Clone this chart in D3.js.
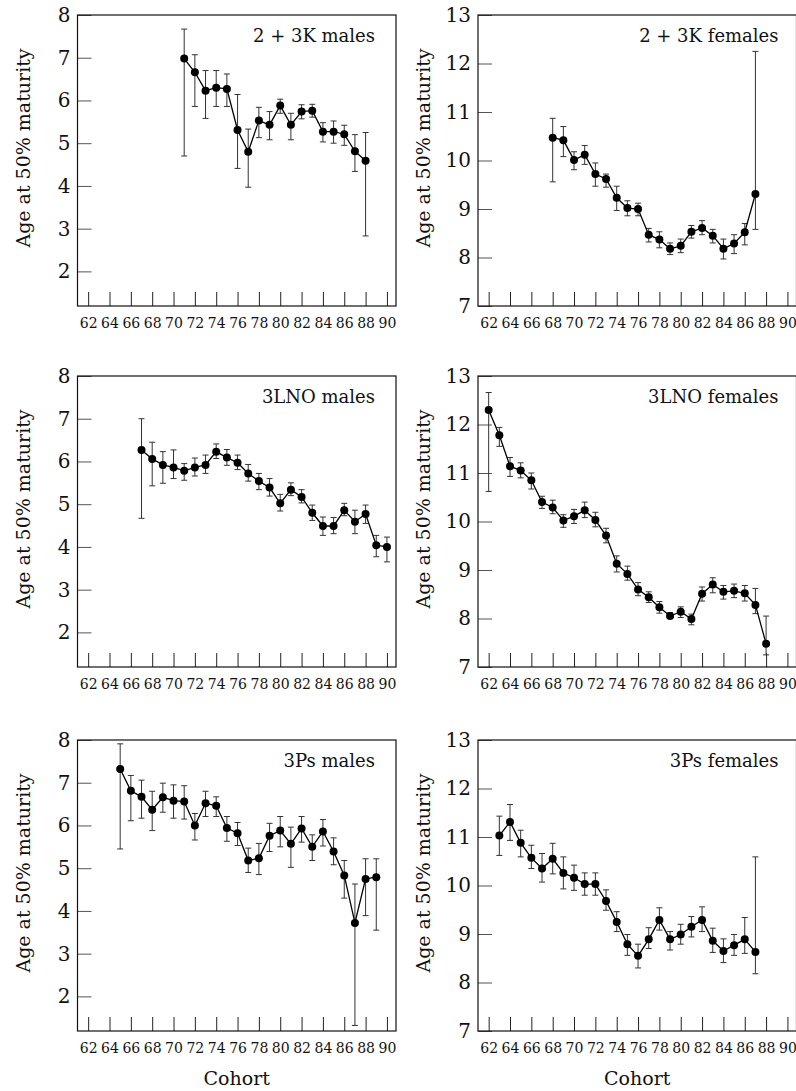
<!DOCTYPE html>
<html>
<head>
<meta charset="utf-8">
<script src="https://cdn.jsdelivr.net/npm/d3@7"></script>
<style>
  body { margin: 0; background: #fff; }
  svg { display: block; font-family: 'DejaVu Serif', serif; }
</style>
</head>
<body>
<script>
// cohort tick labels
const xTicks = [62, 64, 66, 68, 70, 72, 74, 76, 78, 80, 82, 84, 86, 88, 90]
const maleTicks = [2, 3, 4, 5, 6, 7, 8]
const femaleTicks = [7, 8, 9, 10, 11, 12, 13]

// 2 + 3K males
const k23mYears = [71, 72, 73, 74, 75, 76, 77, 78, 79, 80, 81, 82, 83, 84, 85, 86, 87, 88]
const k23mAge = [6.98, 6.66, 6.23, 6.30, 6.27, 5.31, 4.80, 5.53, 5.43, 5.88, 5.43, 5.74, 5.76, 5.27, 5.27, 5.21, 4.81, 4.59]
const k23mHi = [7.67, 7.07, 6.70, 6.70, 6.62, 6.14, 5.33, 5.84, 5.74, 6.03, 5.70, 5.90, 5.91, 5.48, 5.52, 5.42, 5.20, 5.25]
const k23mLo = [4.70, 5.86, 5.58, 5.86, 5.86, 4.41, 3.97, 5.13, 5.08, 5.70, 5.08, 5.57, 5.61, 5.03, 5.00, 4.95, 4.34, 2.83]

// 2 + 3K females
const k23fYears = [68, 69, 70, 71, 72, 73, 74, 75, 76, 77, 78, 79, 80, 81, 82, 83, 84, 85, 86, 87]
const k23fAge = [10.47, 10.42, 10.01, 10.12, 9.72, 9.62, 9.23, 9.02, 9.00, 8.47, 8.37, 8.18, 8.24, 8.53, 8.61, 8.45, 8.18, 8.29, 8.52, 9.31]
const k23fHi = [10.87, 10.70, 10.18, 10.31, 9.95, 9.72, 9.47, 9.17, 9.12, 8.60, 8.53, 8.30, 8.38, 8.66, 8.76, 8.58, 8.38, 8.47, 8.70, 12.25]
const k23fLo = [9.56, 10.08, 9.81, 9.92, 9.47, 9.45, 8.97, 8.86, 8.86, 8.32, 8.20, 8.06, 8.10, 8.40, 8.47, 8.30, 7.97, 8.08, 8.26, 8.58]

// 3LNO males
const lnomYears = [67, 68, 69, 70, 71, 72, 73, 74, 75, 76, 77, 78, 79, 80, 81, 82, 83, 84, 85, 86, 87, 88, 89, 90]
const lnomAge = [6.27, 6.06, 5.92, 5.86, 5.78, 5.86, 5.92, 6.23, 6.09, 5.97, 5.72, 5.54, 5.39, 5.02, 5.34, 5.17, 4.80, 4.49, 4.49, 4.86, 4.59, 4.77, 4.04, 4.00]
const lnomHi = [7.00, 6.45, 6.23, 6.27, 5.95, 6.08, 6.15, 6.41, 6.28, 6.15, 5.93, 5.72, 5.60, 5.23, 5.50, 5.34, 4.98, 4.70, 4.69, 5.02, 4.86, 4.98, 4.27, 4.23]
const lnomLo = [4.67, 5.43, 5.49, 5.60, 5.56, 5.66, 5.72, 6.07, 5.91, 5.81, 5.54, 5.34, 5.19, 4.84, 5.20, 5.03, 4.62, 4.27, 4.31, 4.73, 4.31, 4.55, 3.77, 3.65]

// 3LNO females
const lnofYears = [62, 63, 64, 65, 66, 67, 68, 69, 70, 71, 72, 73, 74, 75, 76, 77, 78, 79, 80, 81, 82, 83, 84, 85, 86, 87, 88]
const lnofAge = [12.30, 11.78, 11.14, 11.05, 10.85, 10.40, 10.29, 10.02, 10.11, 10.23, 10.03, 9.71, 9.13, 8.92, 8.60, 8.44, 8.23, 8.05, 8.14, 7.99, 8.51, 8.70, 8.55, 8.57, 8.52, 8.28, 7.48]
const lnofHi = [12.66, 11.94, 11.32, 11.21, 11.00, 10.52, 10.44, 10.14, 10.25, 10.40, 10.19, 9.86, 9.29, 9.08, 8.74, 8.55, 8.35, 8.12, 8.24, 8.09, 8.65, 8.84, 8.68, 8.71, 8.68, 8.62, 8.05]
const lnofLo = [10.62, 11.55, 10.93, 10.90, 10.67, 10.27, 10.16, 9.88, 9.96, 10.08, 9.89, 9.56, 8.96, 8.79, 8.47, 8.33, 8.11, 8.00, 8.02, 7.87, 8.36, 8.53, 8.40, 8.43, 8.36, 8.10, 7.25]

// 3Ps males
const psmYears = [65, 66, 67, 68, 69, 70, 71, 72, 73, 74, 75, 76, 77, 78, 79, 80, 81, 82, 83, 84, 85, 86, 87, 88, 89]
const psmAge = [7.32, 6.81, 6.67, 6.37, 6.66, 6.58, 6.56, 6.00, 6.52, 6.46, 5.94, 5.82, 5.18, 5.23, 5.76, 5.88, 5.57, 5.93, 5.50, 5.86, 5.39, 4.83, 3.72, 4.75, 4.79]
const psmHi = [7.91, 7.17, 7.06, 6.80, 6.99, 6.95, 6.93, 6.28, 6.80, 6.67, 6.21, 6.07, 5.47, 5.58, 6.05, 6.21, 5.96, 6.21, 5.78, 6.14, 5.71, 5.18, 4.63, 5.22, 5.22]
const psmLo = [5.45, 6.11, 6.17, 5.88, 6.31, 6.17, 6.15, 5.66, 6.21, 6.21, 5.63, 5.53, 4.90, 4.85, 5.39, 5.50, 5.02, 5.61, 5.18, 5.52, 5.08, 4.30, 1.32, 3.89, 3.55]

// 3Ps females
const psfYears = [63, 64, 65, 66, 67, 68, 69, 70, 71, 72, 73, 74, 75, 76, 77, 78, 79, 80, 81, 82, 83, 84, 85, 86, 87]
const psfAge = [11.03, 11.31, 10.88, 10.57, 10.35, 10.55, 10.26, 10.16, 10.03, 10.03, 9.68, 9.25, 8.79, 8.55, 8.89, 9.29, 8.89, 8.99, 9.15, 9.29, 8.86, 8.65, 8.77, 8.89, 8.63]
const psfHi = [11.43, 11.67, 11.14, 10.83, 10.66, 10.87, 10.59, 10.42, 10.26, 10.26, 9.91, 9.46, 8.99, 8.79, 9.13, 9.54, 9.05, 9.20, 9.36, 9.56, 9.12, 8.90, 8.99, 9.34, 10.59]
const psfLo = [10.62, 10.93, 10.59, 10.35, 10.07, 10.24, 9.93, 9.90, 9.80, 9.80, 9.49, 9.05, 8.56, 8.30, 8.70, 9.08, 8.67, 8.79, 8.94, 9.05, 8.62, 8.41, 8.56, 8.60, 8.18]

const W = 796
const H = 1091
const pw = 318.5
const ph = 291
const colX = [77.5, 478]
const rowY = [15, 376, 740]
const titleInset = [21, 18]

const panels = [
  { title: '2 + 3K males', col: 0, row: 0, sex: 'm', years: k23mYears, age: k23mAge, hi: k23mHi, lo: k23mLo },
  { title: '2 + 3K females', col: 1, row: 0, sex: 'f', years: k23fYears, age: k23fAge, hi: k23fHi, lo: k23fLo },
  { title: '3LNO males', col: 0, row: 1, sex: 'm', years: lnomYears, age: lnomAge, hi: lnomHi, lo: lnomLo },
  { title: '3LNO females', col: 1, row: 1, sex: 'f', years: lnofYears, age: lnofAge, hi: lnofHi, lo: lnofLo },
  { title: '3Ps males', col: 0, row: 2, sex: 'm', years: psmYears, age: psmAge, hi: psmHi, lo: psmLo },
  { title: '3Ps females', col: 1, row: 2, sex: 'f', years: psfYears, age: psfAge, hi: psfHi, lo: psfLo }
]

const svg = d3.select('body')
  .append('svg')
  .attr('width', W)
  .attr('height', H)

svg.append('rect')
  .attr('width', W)
  .attr('height', H)
  .attr('fill', '#fff')

const x = d3.scaleLinear().domain([61, 90.85]).range([0, pw])

panels.forEach(p => {
  const g = svg.append('g')
    .attr('transform', `translate(${colX[p.col]},${rowY[p.row]})`)

  const y = d3.scaleLinear()
    .domain(p.sex === 'm' ? [1.19, 8] : [7, 13])
    .range([ph, 0])

  const xAxis = g.append('g')
    .attr('transform', `translate(0,${ph})`)
    .call(d3.axisBottom(x)
      .tickValues(xTicks)
      .tickFormat(d3.format('d'))
      .tickSizeInner(-14)
      .tickSizeOuter(0)
      .tickPadding(12))
  xAxis.select('.domain').remove()
  xAxis.selectAll('line').attr('stroke', '#222')
  xAxis.selectAll('text')
    .attr('font-family', 'DejaVu Serif')
    .attr('font-size', 14)
    .attr('fill', '#111')

  const yAxis = g.append('g')
    .call(d3.axisLeft(y)
      .tickValues(p.sex === 'm' ? maleTicks : femaleTicks)
      .tickFormat(d3.format('d'))
      .tickSizeInner(-14)
      .tickSizeOuter(0)
      .tickPadding(7))
  yAxis.select('.domain').remove()
  yAxis.selectAll('line').attr('stroke', '#555')
  yAxis.selectAll('text')
    .attr('font-family', 'DejaVu Serif')
    .attr('font-size', 20)
    .attr('fill', '#111')

  g.append('rect')
    .attr('width', pw)
    .attr('height', ph)
    .attr('fill', 'none')
    .attr('stroke', '#111')
    .attr('stroke-width', 1.2)

  const pts = p.years.map((yr, i) => ({ yr, v: p.age[i], hi: p.hi[i], lo: p.lo[i] }))

  const bars = g.append('g').attr('stroke', '#333').attr('stroke-width', 1)
  bars.selectAll('line.bar')
    .data(pts)
    .join('line')
    .attr('class', 'bar')
    .attr('x1', d => x(d.yr))
    .attr('x2', d => x(d.yr))
    .attr('y1', d => y(d.hi))
    .attr('y2', d => y(d.lo))
  bars.selectAll('line.capHi')
    .data(pts)
    .join('line')
    .attr('class', 'capHi')
    .attr('x1', d => x(d.yr) - 3)
    .attr('x2', d => x(d.yr) + 3)
    .attr('y1', d => y(d.hi))
    .attr('y2', d => y(d.hi))
  bars.selectAll('line.capLo')
    .data(pts)
    .join('line')
    .attr('class', 'capLo')
    .attr('x1', d => x(d.yr) - 3)
    .attr('x2', d => x(d.yr) + 3)
    .attr('y1', d => y(d.lo))
    .attr('y2', d => y(d.lo))

  g.append('path')
    .datum(pts)
    .attr('fill', 'none')
    .attr('stroke', '#000')
    .attr('stroke-width', 1.3)
    .attr('d', d3.line().x(d => x(d.yr)).y(d => y(d.v)))

  g.selectAll('circle')
    .data(pts)
    .join('circle')
    .attr('cx', d => x(d.yr))
    .attr('cy', d => y(d.v))
    .attr('r', 4)
    .attr('fill', '#000')

  g.append('text')
    .attr('x', pw - titleInset[p.col])
    .attr('y', 27)
    .attr('text-anchor', 'end')
    .attr('font-size', 18)
    .attr('fill', '#111')
    .text(p.title)

  g.append('text')
    .attr('transform', `translate(-55,133) rotate(-90)`)
    .attr('text-anchor', 'middle')
    .attr('dominant-baseline', 'central')
    .attr('font-size', 19)
    .attr('fill', '#111')
    .text('Age at 50% maturity')

  if (p.row === 2) {
    g.append('text')
      .attr('x', pw / 2)
      .attr('y', ph + 47)
      .attr('text-anchor', 'middle')
      .attr('dominant-baseline', 'central')
      .attr('font-size', 19)
      .attr('fill', '#111')
      .text('Cohort')
  }
})
</script>
</body>
</html>
